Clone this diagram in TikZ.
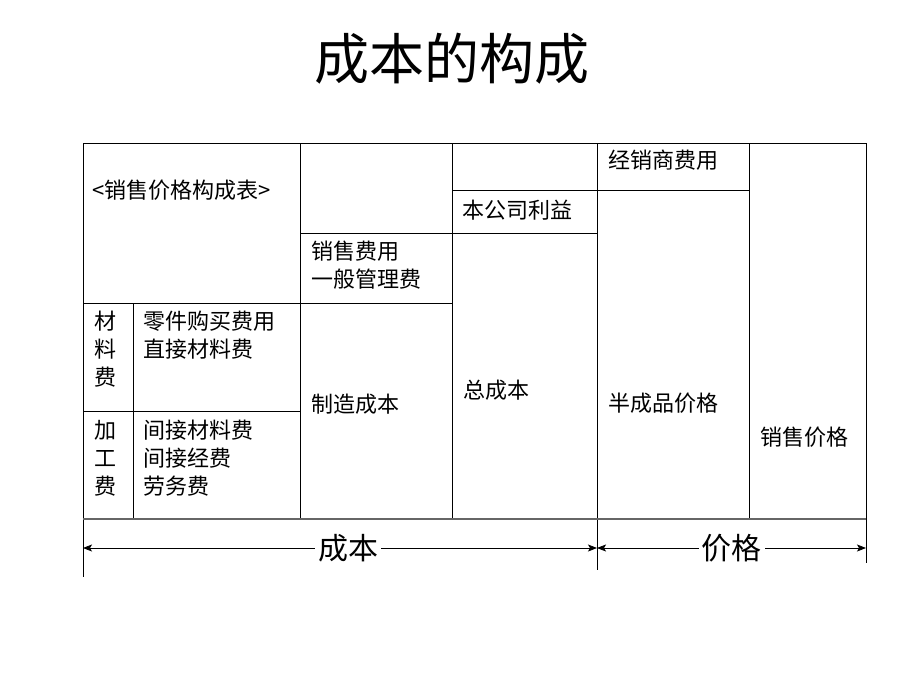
\documentclass[tikz,border=0pt]{standalone}
\usepackage{fontspec}
\setmainfont{Noto Sans CJK SC}
\usetikzlibrary{arrows.meta}

\begin{document}
\begin{tikzpicture}[x=1pt,y=-1pt,>={Stealth[length=9pt,width=7pt,inset=2pt]},
                rule/.style={line width=0.8pt},
                cell/.style={inner sep=0pt,anchor=west,font=\fontsize{22}{28}\selectfont},
                cell list/.style={cell,anchor=north west,align=left},
                span/.style={inner sep=3pt,fill=white,font=\fontsize{30}{36}\selectfont}]
  \useasboundingbox (0,0) rectangle (920,690);

  \node[font=\fontsize{55}{60}\selectfont] (title) at (452,59) {成本的构成};

  % table
  \draw[rule] (83,143) -- (866,143)
    (83,143) -- (83,577) (300,143) -- (300,519) (452,143) -- (452,519)
    (597,143) -- (597,570) (749,143) -- (749,519) (866,143) -- (866,563)
    (133,303) -- (133,519)
    (452,190) -- (749,190) (300,233) -- (597,233)
    (83,303) -- (452,303) (83,411) -- (300,411);
  \draw[line width=1.2pt,black!60] (83,519) -- (866,519);

  \node[cell] (head) at (92,190) {<销售价格构成表>};
  \node[cell] (dealer) at (608,160) {经销商费用};
  \node[cell] (profit) at (462,210) {本公司利益};
  \node[cell list] (sales) at (311,241) {销售费用\\一般管理费};
  \node[cell list] (mat) at (94,311) {材\\料\\费};
  \node[cell list] (matlist) at (143,311) {零件购买费用\\直接材料费};
  \node[cell list] (proc) at (94,420) {加\\工\\费};
  \node[cell list] (proclist) at (143,420) {间接材料费\\间接经费\\劳务费};
  \node[cell] (make) at (311,404) {制造成本};
  \node[cell] (total) at (463,390) {总成本};
  \node[cell] (semi) at (608,403) {半成品价格};
  \node[cell] (price) at (760,437) {销售价格};

  % spans below the table
  \coordinate (c1) at (83,548);
  \coordinate (c2) at (597,548);
  \coordinate (c3) at (866,548);
  \draw[<->,line width=0.8pt] (c1) -- (c2) node[span,pos=0.516] (cost) {成本};
  \draw[<->,line width=0.8pt] (c2) -- (c3) node[span,midway] (sell) {价格};
\end{tikzpicture}
\end{document}
